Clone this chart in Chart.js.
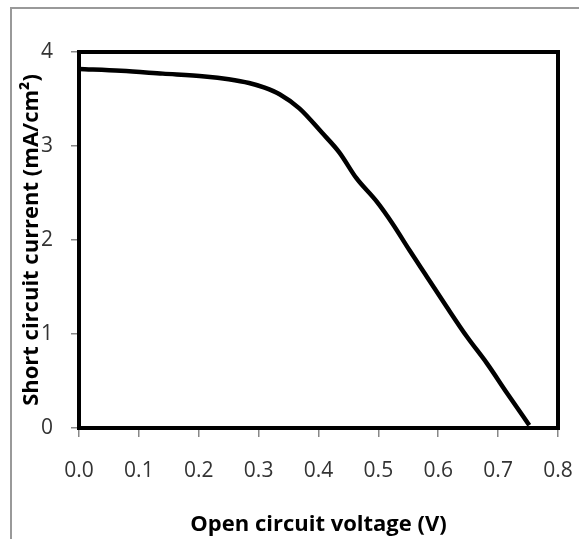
<!DOCTYPE html>
<html>
<head>
<meta charset="utf-8">
<script src="https://cdn.jsdelivr.net/npm/chart.js@4"></script>
<style>
  html, body { margin: 0; padding: 0; background: #fff; }
  #wrap { position: relative; width: 579px; height: 539px; overflow: hidden; }
  #frame {
    position: absolute; left: 10px; top: 7px; width: 600px; height: 600px;
    border-top: 2px solid #999; border-left: 2px solid #999;
  }
  canvas { position: absolute; left: 0; top: 0; }
</style>
</head>
<body>
<div id="wrap">
  <div id="frame"></div>
  <canvas id="chart" width="579" height="539"></canvas>
</div>
<script>
// J-V curve values
const voltage = [0.0, 0.07, 0.14, 0.21, 0.25, 0.284, 0.31, 0.335, 0.368, 0.406, 0.435, 0.463, 0.497, 0.524, 0.552, 0.581, 0.614, 0.648, 0.681, 0.715, 0.752];
const current = [3.82, 3.80, 3.77, 3.74, 3.71, 3.67, 3.62, 3.55, 3.40, 3.14, 2.93, 2.66, 2.41, 2.17, 1.89, 1.61, 1.29, 0.97, 0.69, 0.37, 0.03];

const xTitle = 'Open circuit voltage (V)';
const yTitle = 'Short circuit current (mA/cm\u00b2)';

const TICK_FONT = { family: "'Open Sans', sans-serif", size: 21 };
const TITLE_FONT = { family: "'Open Sans', sans-serif", size: 22, weight: 'bold' };

// black box round the plot area
const plotFrame = {
  id: 'plotFrame',
  afterDatasetsDraw(chart) {
    const a = chart.chartArea;
    const ctx = chart.ctx;
    ctx.save();
    ctx.strokeStyle = '#000';
    ctx.lineWidth = 4;
    ctx.strokeRect(a.left, a.top, a.right - a.left, a.bottom - a.top);
    ctx.restore();
  },
};

new Chart(document.getElementById('chart'), {
  type: 'scatter',
  data: {
    datasets: [{
      data: voltage.map((v, i) => ({ x: v, y: current[i] })),
      showLine: true,
      borderColor: '#000',
      borderWidth: 4.5,
      pointRadius: 0,
      cubicInterpolationMode: 'monotone',
    }],
  },
  options: {
    responsive: false,
    animation: false,
    layout: { padding: { top: 52, right: 21, left: 10, bottom: 0 } },
    plugins: { legend: { display: false }, tooltip: { enabled: false } },
    scales: {
      x: {
        type: 'linear',
        min: 0, max: 0.8,
        afterFit(scale) {
          scale.height = 111;
          scale.paddingLeft = 0;
          scale.paddingRight = 0;
        },
        border: { display: false },
        grid: { drawOnChartArea: false, tickLength: 9, tickColor: '#888', lineWidth: 1.5 },
        ticks: {
          stepSize: 0.1,
          padding: 21,
          color: '#333',
          font: TICK_FONT,
          callback: v => v.toFixed(1),
        },
        title: { display: true, text: xTitle, color: '#000', font: TITLE_FONT, padding: { top: 0, bottom: 1 } },
      },
      y: {
        min: 0, max: 4,
        afterFit(scale) {
          scale.width = 69;
          scale.paddingTop = 0;
          scale.paddingBottom = 0;
        },
        border: { display: false },
        grid: { drawOnChartArea: false, tickLength: 8, tickColor: '#888', lineWidth: 1.5 },
        ticks: {
          stepSize: 1,
          padding: 18,
          color: '#333',
          font: TICK_FONT,
        },
        title: { display: true, text: yTitle, color: '#000', font: TITLE_FONT, padding: { top: 9, bottom: 0 } },
      },
    },
  },
  plugins: [plotFrame],
});
</script>
</body>
</html>
